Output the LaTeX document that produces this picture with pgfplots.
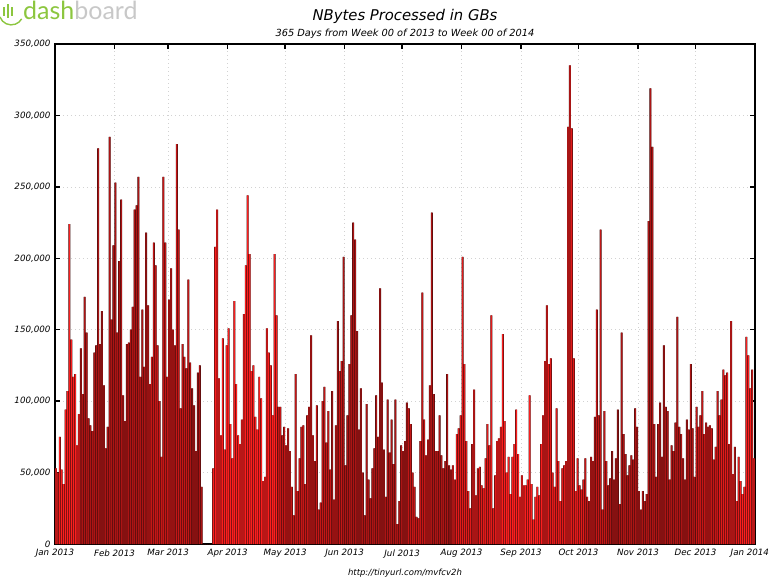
\documentclass[border=0pt]{standalone}
\usepackage{pgfplots}
\pgfplotsset{compat=1.18}
\usepackage{pgfplotstable}
\usepackage{fontspec}
\setmainfont{DejaVu Sans}
\newfontfamily\logofont{Lato}
\definecolor{cBright}{RGB}{252,30,30}
\definecolor{cRed}{RGB}{226,26,26}
\definecolor{cMed}{RGB}{196,22,22}
\definecolor{cDark}{RGB}{172,20,20}
\definecolor{cEdge}{RGB}{62,12,12}
\definecolor{logogreen}{RGB}{140,198,63}
\definecolor{logogrey}{RGB}{200,200,200}

\pgfplotstableread[row sep=\\]{
d v\\
0 53000\\ 1 50000\\ 2 75000\\ 3 52000\\ 4 42000\\ 5 94000\\ 6 107000\\ 7 224000\\ 8 143000\\ 9 117000\\
10 119000\\ 11 69000\\ 12 91000\\ 13 137000\\ 14 105000\\ 15 173000\\ 16 148000\\ 17 88000\\ 18 83000\\ 19 79000\\
20 134000\\ 21 139000\\ 22 277000\\ 23 140000\\ 24 163000\\ 25 111000\\ 26 67000\\ 27 82000\\ 28 285000\\ 29 157000\\
30 209000\\ 31 253000\\ 32 148000\\ 33 198000\\ 34 241000\\ 35 104000\\ 36 86000\\ 37 140000\\ 38 141000\\ 39 150000\\
40 166000\\ 41 234000\\ 42 237000\\ 43 257000\\ 44 117000\\ 45 164000\\ 46 124000\\ 47 218000\\ 48 167000\\ 49 112000\\
50 131000\\ 51 211000\\ 52 195000\\ 53 139000\\ 54 100000\\ 55 61000\\ 56 257000\\ 57 211000\\ 58 117000\\ 59 171000\\
60 193000\\ 61 150000\\ 62 139000\\ 63 280000\\ 64 220000\\ 65 95000\\ 66 140000\\ 67 131000\\ 68 123000\\ 69 185000\\
70 127000\\ 71 109000\\ 72 97000\\ 73 65000\\ 74 120000\\ 75 125000\\ 76 40000\\ 77 0\\ 78 0\\ 79 0\\
80 0\\ 81 0\\ 82 53000\\ 83 208000\\ 84 234000\\ 85 116000\\ 86 76000\\ 87 144000\\ 88 66000\\ 89 139000\\
90 151000\\ 91 84000\\ 92 60000\\ 93 170000\\ 94 112000\\ 95 76000\\ 96 70000\\ 97 87000\\ 98 161000\\ 99 195000\\
100 244000\\ 101 203000\\ 102 121000\\ 103 125000\\ 104 89000\\ 105 80000\\ 106 117000\\ 107 102000\\ 108 44000\\ 109 47000\\
110 151000\\ 111 134000\\ 112 125000\\ 113 90000\\ 114 203000\\ 115 160000\\ 116 96000\\ 117 96000\\ 118 76000\\ 119 82000\\
120 69000\\ 121 81000\\ 122 65000\\ 123 40000\\ 124 20000\\ 125 119000\\ 126 37000\\ 127 60000\\ 128 82000\\ 129 83000\\
130 42000\\ 131 90000\\ 132 96000\\ 133 146000\\ 134 76000\\ 135 58000\\ 136 97000\\ 137 24000\\ 138 29000\\ 139 100000\\
140 110000\\ 141 71000\\ 142 93000\\ 143 52000\\ 144 107000\\ 145 31000\\ 146 83000\\ 147 156000\\ 148 121000\\ 149 128000\\
150 201000\\ 151 55000\\ 152 90000\\ 153 126000\\ 154 160000\\ 155 225000\\ 156 213000\\ 157 149000\\ 158 80000\\ 159 109000\\
160 50000\\ 161 20000\\ 162 98000\\ 163 45000\\ 164 32000\\ 165 53000\\ 166 67000\\ 167 104000\\ 168 75000\\ 169 179000\\
170 113000\\ 171 66000\\ 172 33000\\ 173 101000\\ 174 64000\\ 175 87000\\ 176 56000\\ 177 101000\\ 178 14000\\ 179 30000\\
180 69000\\ 181 65000\\ 182 72000\\ 183 99000\\ 184 95000\\ 185 84000\\ 186 50000\\ 187 40000\\ 188 19000\\ 189 18000\\
190 72000\\ 191 176000\\ 192 87000\\ 193 62000\\ 194 73000\\ 195 111000\\ 196 232000\\ 197 105000\\ 198 65000\\ 199 65000\\
200 90000\\ 201 62000\\ 202 53000\\ 203 58000\\ 204 119000\\ 205 55000\\ 206 52000\\ 207 55000\\ 208 45000\\ 209 77000\\
210 81000\\ 211 90000\\ 212 201000\\ 213 126000\\ 214 72000\\ 215 37000\\ 216 25000\\ 217 70000\\ 218 108000\\ 219 34000\\
220 53000\\ 221 54000\\ 222 41000\\ 223 39000\\ 224 60000\\ 225 84000\\ 226 69000\\ 227 160000\\ 228 25000\\ 229 48000\\
230 72000\\ 231 74000\\ 232 82000\\ 233 147000\\ 234 86000\\ 235 50000\\ 236 61000\\ 237 35000\\ 238 61000\\ 239 70000\\
240 94000\\ 241 63000\\ 242 33000\\ 243 48000\\ 244 41000\\ 245 41000\\ 246 45000\\ 247 104000\\ 248 42000\\ 249 17000\\
250 33000\\ 251 40000\\ 252 34000\\ 253 70000\\ 254 90000\\ 255 128000\\ 256 167000\\ 257 126000\\ 258 130000\\ 259 50000\\
260 40000\\ 261 95000\\ 262 58000\\ 263 30000\\ 264 53000\\ 265 55000\\ 266 58000\\ 267 292000\\ 268 335000\\ 269 291000\\
270 130000\\ 271 37000\\ 272 60000\\ 273 41000\\ 274 38000\\ 275 45000\\ 276 60000\\ 277 33000\\ 278 30000\\ 279 61000\\
280 58000\\ 281 89000\\ 282 164000\\ 283 90000\\ 284 220000\\ 285 24000\\ 286 93000\\ 287 58000\\ 288 41000\\ 289 46000\\
290 65000\\ 291 45000\\ 292 60000\\ 293 94000\\ 294 28000\\ 295 148000\\ 296 77000\\ 297 63000\\ 298 48000\\ 299 55000\\
300 62000\\ 301 59000\\ 302 95000\\ 303 82000\\ 304 37000\\ 305 24000\\ 306 37000\\ 307 30000\\ 308 35000\\ 309 226000\\
310 319000\\ 311 278000\\ 312 84000\\ 313 47000\\ 314 84000\\ 315 99000\\ 316 61000\\ 317 139000\\ 318 96000\\ 319 93000\\
320 45000\\ 321 69000\\ 322 65000\\ 323 85000\\ 324 159000\\ 325 82000\\ 326 77000\\ 327 60000\\ 328 45000\\ 329 87000\\
330 80000\\ 331 126000\\ 332 81000\\ 333 47000\\ 334 96000\\ 335 82000\\ 336 90000\\ 337 107000\\ 338 77000\\ 339 85000\\
340 82000\\ 341 83000\\ 342 81000\\ 343 59000\\ 344 68000\\ 345 107000\\ 346 90000\\ 347 101000\\ 348 122000\\ 349 118000\\
350 120000\\ 351 70000\\ 352 156000\\ 353 49000\\ 354 68000\\ 355 30000\\ 356 61000\\ 357 44000\\ 358 35000\\ 359 40000\\
360 145000\\ 361 132000\\ 362 109000\\ 363 122000\\ 364 60000\\
}\data

\newcommand{\seg}[3]{\addplot[ybar, bar width=0.64, fill=#3, draw=none, restrict x to domain=#1:#2] table[x=d, y=v] {\data};}

\begin{document}
\begin{tikzpicture}[x=1pt,y=1pt]
\path[use as bounding box] (-55,-35) rectangle (716,544);
\begin{axis}[
  at={(0,0)}, anchor=south west,
  scale only axis, width=700pt, height=500pt,
  xmin=-0.5, xmax=364.5, ymin=0, ymax=350000,
  xtick={-0.5,30.5,58.5,89.5,119.5,150.5,180.5,211.5,242.5,272.5,303.5,333.5,364.5},
  xticklabels={Jan 2013,Feb 2013,Mar 2013,Apr 2013,May 2013,Jun 2013,Jul 2013,Aug 2013,Sep 2013,Oct 2013,Nov 2013,Dec 2013,\makebox[0pt][r]{Jan 2014\hspace*{-14pt}}},
  ytick={0,50000,100000,150000,200000,250000,300000,350000},
  scaled y ticks=false,
  yticklabel style={/pgf/number format/fixed, /pgf/number format/precision=0, /pgf/number format/1000 sep={,}},
  /pgf/number format/assume math mode=true,
  tick label style={font=\itshape\fontsize{8.7}{10}\selectfont},
  xticklabel pos=lower, yticklabel pos=left,
  xtick pos=both, ytick pos=both,
  tick align=inside,
  major tick length=5pt,
  major tick style={black, line width=1.4pt},
  axis line style={black, line width=1.2pt},
  grid=major,
  grid style={dash pattern=on 1pt off 3pt, gray!35, line width=0.6pt},
  xticklabel style={yshift=-2pt},
  yticklabel style={xshift=-1pt},
]
\addplot[ybar, bar width=1.04, fill=cEdge, draw=none] table[x=d, y=v] {\data};
\seg{-0.2}{12.2}{cBright}
\seg{12.8}{47.2}{cDark}
\seg{47.8}{69.2}{cMed}
\seg{69.8}{81.2}{cDark}
\seg{81.8}{115.2}{cBright}
\seg{115.8}{149.2}{cMed}
\seg{149.8}{183.2}{cDark}
\seg{183.8}{195.2}{cMed}
\seg{195.8}{206.2}{cDark}
\seg{206.8}{229.2}{cRed}
\seg{229.8}{253.2}{cBright}
\seg{253.8}{275.2}{cRed}
\seg{275.8}{287.2}{cMed}
\seg{287.8}{333.2}{cDark}
\seg{333.8}{345.2}{cMed}
\seg{345.8}{356.2}{cRed}
\seg{356.8}{364.2}{cBright}
\end{axis}
\node[anchor=base, font=\itshape\fontsize{14.8}{17}\selectfont] at (350,523) {NBytes Processed in GBs};
\node[anchor=base, font=\itshape\fontsize{9.8}{11}\selectfont] at (350,507) {365 Days from Week 00 of 2013 to Week 00 of 2014};
\node[anchor=base, font=\itshape\fontsize{8.5}{10}\selectfont] at (350,-31) {http://tinyurl.com/mvfcv2h};
\node[anchor=base west, inner sep=0pt, font=\logofont\fontsize{25}{26}\selectfont] at (-32,524) {\textcolor{logogreen}{dash}\textcolor{logogrey}{board}};
\begin{scope}[logogreen, line width=1.4pt]
\draw (-43,528) -- (-43,537);
\draw (-47,526) -- (-47,540);
\draw (-51,528) -- (-51,537);
\draw (-55,527) arc[start angle=200, end angle=330, radius=12];
\end{scope}
\end{tikzpicture}
\end{document}
